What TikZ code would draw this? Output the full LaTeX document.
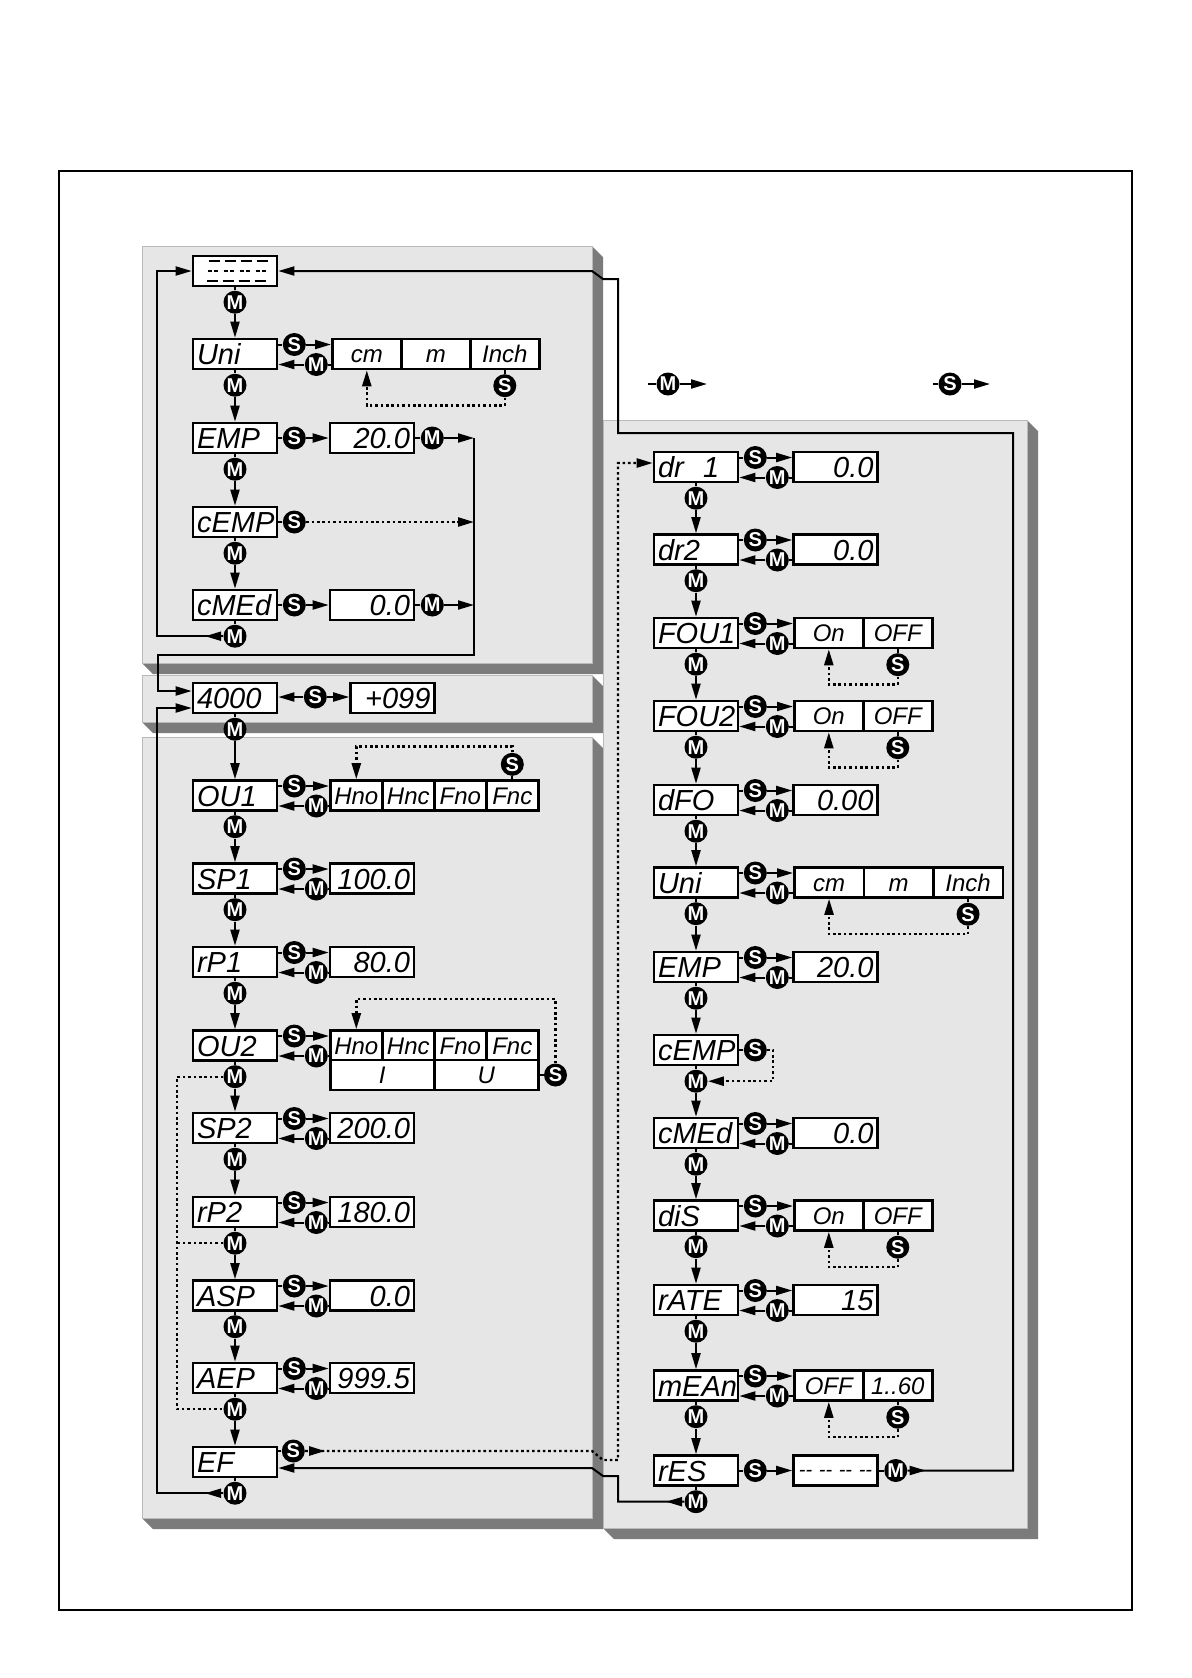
\documentclass[tikz,border=0pt]{standalone}
\usepackage{fontspec}
\newfontfamily\lcdfont{Liberation Sans}
\newfontfamily\keyfont{Liberation Sans}
\usetikzlibrary{positioning,calc,arrows.meta,decorations.markings}
\definecolor{panelgrey}{HTML}{E6E6E6}
\definecolor{shadowgrey}{HTML}{7B7B7B}

\begin{document}
\begin{tikzpicture}[x=0.5pt, y=-0.5pt,
  ptr/.tip={Triangle[length=8pt,width=4.5pt]},
  lnk/.style={line width=1pt},
  arr/.style={lnk, -ptr},
  dotlnk/.style={line width=1.2pt, dash pattern=on 1.3pt off 1.4pt},
  tipat/.style={postaction={decorate}, decoration={markings, mark=at position #1 with {\arrow{ptr}}}},
  disp/.style={draw, line width=1.3pt, fill=white, text width=38pt, inner xsep=2pt, inner ysep=0pt,
    minimum height=15pt, text height=10.6pt, text depth=0pt, font=\lcdfont\itshape\fontsize{14.5}{14.5}\selectfont},
  lbox/.style={disp, align=left},
  vbox/.style={disp, align=right},
  cell/.style={draw, line width=1.3pt, fill=white, inner sep=0pt, minimum height=15pt, text height=8.6pt,
    text depth=0pt, anchor=west, font=\lcdfont\itshape\fontsize{12}{12}\selectfont},
  btn/.style={circle, fill=black, text=white, inner sep=0pt, minimum size=11.5pt,
    font=\keyfont\bfseries\fontsize{10}{10}\selectfont}]
\useasboundingbox (0,0) rectangle (1191,1678);
% frame and panels
\draw[line width=1.1pt] (59,171) rectangle (1132,1610);
\foreach \xa/\ya/\xb/\yb in {142/246/592/663, 142/675/592/722, 142/737/592/1518, 603/420/1027/1528} {
  \fill[shadowgrey] (\xb,\ya) -- (\xb+11,\ya+11) -- (\xb+11,\yb+11) -- (\xa+11,\yb+11) -- (\xa,\yb) -- cycle;
  \filldraw[fill=panelgrey, draw=gray!55, line width=0.4pt] (\xa,\ya) rectangle (\xb,\yb);
}
% left column, upper part
\node[lbox] (dash) at (235,271) {};
\node[lbox] (uni) at (235,354) {Uni};
\node[lbox] (emp) at (235,438) {EMP};
\node[lbox] (cemp) at (235,522) {cEMP};
\node[lbox] (cmed) at (235,605) {cMEd};
\foreach \t [count=\i] in {cm,m,Inch}
  \node[cell, minimum width=34.5pt] (uo\i) at ({331+69*(\i-1)},354) {\t};
\node[vbox] (vemp) at (372,438) {20.0};
\node[vbox] (vcmed) at (372,605) {0.0};
\foreach \i in {0,...,3} {
  \draw[line width=1.2pt] ($(dash.west)+(17+16*\i,-10)$) -- ++(11,0);
  \draw[line width=1.2pt] ($(dash.west)+(16+16*\i,0)$) -- ++(4,0) ++(2,0) -- ++(4,0);
  \draw[line width=1.2pt] ($(dash.west)+(15+16*\i,10)$) -- ++(11,0);
}
% code panel
\node[lbox] (code) at (235,698) {4000};
\node[vbox] (vcode) at (392.5,698) {+099};
% left column, lower part
\node[lbox] (ou1) at (235,795.5) {OU1};
\node[lbox] (sp1) at (235,878.5) {SP1};
\node[lbox] (rp1) at (235,962) {rP1};
\node[lbox] (ou2) at (235,1045.5) {OU2};
\node[lbox] (sp2) at (235,1128) {SP2};
\node[lbox] (rp2) at (235,1212) {rP2};
\node[lbox] (asp) at (235,1295.5) {ASP};
\node[lbox] (aep) at (235,1378) {AEP};
\node[lbox] (ef) at (235,1462) {EF};
\foreach \t [count=\i] in {Hno,Hnc,Fno,Fnc} {
  \node[cell, minimum width=26pt] (oa\i) at ({329+52*(\i-1)},795.5) {\t};
  \node[cell, minimum width=26pt] (ob\i) at ({329+52*(\i-1)},1045.5) {\t};
}
\node[cell, minimum width=52pt] (ob5) at (329,1075) {I};
\node[cell, minimum width=52pt] (ob6) at (433,1075) {U};
\node[vbox] (vsp1) at (372,878.5) {100.0};
\node[vbox] (vrp1) at (372,962) {80.0};
\node[vbox] (vsp2) at (372,1128) {200.0};
\node[vbox] (vrp2) at (372,1212) {180.0};
\node[vbox] (vasp) at (372,1295.5) {0.0};
\node[vbox] (vaep) at (372,1378) {999.5};
% right column
\node[lbox] (dr1) at (696,467) {dr\ \ 1};
\node[lbox] (dr2) at (696,549.5) {dr2};
\node[lbox] (fou1) at (696,633) {FOU1};
\node[lbox] (fou2) at (696,716) {FOU2};
\node[lbox] (dfo) at (696,800) {dFO};
\node[lbox] (runi) at (696,882.5) {Uni};
\node[lbox] (remp) at (696,967) {EMP};
\node[lbox] (rcemp) at (696,1050) {cEMP};
\node[lbox] (rcmed) at (696,1133) {cMEd};
\node[lbox] (dis) at (696,1215.5) {diS};
\node[lbox] (rate) at (696,1300) {rATE};
\node[lbox] (mean) at (696,1385.5) {mEAn};
\node[lbox] (res) at (696,1470.5) {rES};
\node[vbox] (vdr1) at (835.5,467) {0.0};
\node[vbox] (vdr2) at (835.5,549.5) {0.0};
\node[vbox] (vdfo) at (835.5,800) {0.00};
\node[vbox] (vremp) at (835.5,967) {20.0};
\node[vbox] (vrcmed) at (835.5,1133) {0.0};
\node[vbox] (vrate) at (835.5,1300) {15};
\node[vbox, align=center, text height=6pt, font=\lcdfont\itshape\fontsize{10}{10}\selectfont] (vres)
  at (835.5,1470.5) {\mbox{-{}-~-{}-~-{}-~-{}-}};
\foreach \t [count=\i] in {On,OFF} {
  \node[cell, minimum width=34.5pt] (fa\i) at ({793+69*(\i-1)},633) {\t};
  \node[cell, minimum width=34.5pt] (fb\i) at ({793+69*(\i-1)},716) {\t};
  \node[cell, minimum width=34.5pt] (fc\i) at ({793+69*(\i-1)},1215.5) {\t};
}
\foreach \t [count=\i] in {OFF,1..60}
  \node[cell, minimum width=34.5pt] (fd\i) at ({793+69*(\i-1)},1385.5) {\t};
\foreach \t [count=\i] in {cm,m,Inch}
  \node[cell, minimum width=34.75pt] (ru\i) at ({793+69.5*(\i-1)},882.5) {\t};
% routing points
\coordinate (jx) at (474,655);
\coordinate (jl) at (158,655);
\coordinate (xl) at (157,0);
\coordinate (xg) at (177,0);
\coordinate (xr) at (1013,433);
\coordinate (xm) at (618,279);
\coordinate (sla) at (603,279);
\coordinate (slb) at (592,271);
\coordinate (xe) at (618,1476);
\coordinate (slc) at (603,1476);
\coordinate (sld) at (592,1468);
\coordinate (sle) at (592,1451);
\coordinate (slf) at (603,1460);
\coordinate (xd) at (618,463);
\coordinate (xc) at (773,0);
\coordinate (yo2) at (0,999);
% M steps down the columns
\foreach \a/\b in {dash/uni, uni/emp, emp/cemp, cemp/cmed, code/ou1, ou1/sp1, sp1/rp1, rp1/ou2, ou2/sp2,
    sp2/rp2, rp2/asp, asp/aep, aep/ef, dr1/dr2, dr2/fou1, fou1/fou2, fou2/dfo, dfo/runi, runi/remp,
    remp/rcemp, rcemp/rcmed, rcmed/dis, dis/rate, rate/mean, mean/res} {
  \node[btn, below=1.5pt of \a] (m\a) {M};
  \draw[lnk] (\a) -- (m\a);
  \draw[arr] (m\a) -- (\b);
}
\foreach \a in {cmed, ef, res} {
  \node[btn, below=1.5pt of \a] (m\a) {M};
  \draw[lnk] (\a) -- (m\a);
}
% S out, M back
\foreach \b/\v in {uni/uo1, ou1/oa1, sp1/vsp1, rp1/vrp1, ou2/ob1, sp2/vsp2, rp2/vrp2, asp/vasp, aep/vaep,
    dr1/vdr1, dr2/vdr2, fou1/fa1, fou2/fb1, dfo/vdfo, runi/ru1, remp/vremp, rcmed/vrcmed, dis/fc1,
    rate/vrate, mean/fd1} {
  \node[btn] (s\b) at ($(\b.east)+(16,-9.5)$) {S};
  \node[btn] (n\b) at ($(\b.east)+(38,10.5)$) {M};
  \draw[lnk] (\b.east |- s\b) -- (s\b);
  \draw[arr] (s\b) -- (s\b -| \v.west);
  \draw[lnk] (n\b) -- (n\b -| \v.west);
  \draw[arr] (n\b) -- (n\b -| \b.east);
}
% S scrolls through the choices
\foreach \c/\f in {uo3/uo1, fa2/fa1, fb2/fb1, fc2/fc1, ru3/ru1, fd2/fd1} {
  \node[btn, below=1.75pt of \c] (s\c) {S};
  \draw[lnk] (\c) -- (s\c);
  \draw[dotlnk, -ptr] (s\c.south) -- ++(0,8) -| (\f.south);
}
\node[btn, above=1.5pt of oa4] (soa) {S};
\draw[lnk] (oa4) -- (soa);
\draw[dotlnk, -ptr] (soa.north) -- ++(0,-6) -| (oa1.north);
\node[btn, right=2pt of ob6] (sob) {S};
\draw[lnk] (ob6) -- (sob);
\draw[dotlnk, -ptr] (sob.north) -- (sob.north |- yo2) -| (ob1.north);
% single S keys
\node[btn] (semp) at ($(emp.east)+(16,0)$) {S};
\node[btn] (nemp) at ($(vemp.east)+(17,0)$) {M};
\draw[lnk] (emp) -- (semp);
\draw[arr] (semp) -- (vemp);
\draw[lnk] (vemp) -- (nemp);
\draw[arr] (nemp) -- (nemp -| jx);
\node[btn] (scmed) at ($(cmed.east)+(16,0)$) {S};
\node[btn] (ncmed) at ($(vcmed.east)+(17,0)$) {M};
\draw[lnk] (cmed) -- (scmed);
\draw[arr] (scmed) -- (vcmed);
\draw[lnk] (vcmed) -- (ncmed);
\draw[arr] (ncmed) -- (ncmed -| jx);
\node[btn] (scemp) at ($(cemp.east)+(16,0)$) {S};
\draw[lnk] (cemp) -- (scemp);
\draw[dotlnk, -ptr] (scemp) -- (scemp -| jx);
\node[btn] (scode) at ($(code.east)+(37,-1)$) {S};
\draw[arr] (scode) -- (scode -| code.east);
\draw[arr] (scode) -- (scode -| vcode.west);
\node[btn] (sef) at ($(ef.east)+(15,-11)$) {S};
\draw[lnk] (ef.east |- sef) -- (sef);
\node[btn] (srcemp) at ($(rcemp.east)+(16,0)$) {S};
\draw[lnk] (rcemp) -- (srcemp);
\draw[dotlnk, -ptr] (srcemp.east) -| (xc |- mrcemp) -- (mrcemp);
\node[btn] (sres) at ($(res.east)+(16,0)$) {S};
\node[btn] (nres) at ($(vres.east)+(17,0)$) {M};
\draw[lnk] (res) -- (sres);
\draw[arr] (sres) -- (vres);
\draw[lnk] (vres) -- (nres);
% loops
\draw[arr] (jx |- nemp) -- (jx) -- (jl) |- ($(code.west)+(0,-7)$);
\draw[arr, tipat=9pt] (mcmed.west) -| (xl |- dash) -- (dash.west);
\draw[arr, tipat=9pt] (mef.west) -| ($(xl |- code)+(0,10)$) -- ($(code.west)+(0,10)$);
\draw[arr, tipat=9pt] (nres.east) -| (xr) -| (xm) -- (sla) -- (slb) -- (dash.east |- slb);
\draw[arr, tipat=9pt] (mres.west) -| (xe) -- (slc) -- (sld) -- (ef.east |- sld);
\draw[dotlnk, -ptr, tipat=10pt] (sef.east) -- (sle) -- (slf) -| (xd) -- (dr1.west |- xd);
\draw[dotlnk] (mou2.west) -| (xg |- maep) -- (maep.west);
\draw[dotlnk] (mrp2.west) -- (mrp2 -| xg);
% legend
\node[btn] (legm) at (668,384) {M};
\node[btn] (legs) at (950,384) {S};
\coordinate (legma) at (648,384);
\coordinate (legmb) at (707,384);
\coordinate (legsa) at (933,384);
\coordinate (legsb) at (990,384);
\draw[lnk] (legma) -- (legm);
\draw[arr] (legm) -- (legmb);
\draw[lnk] (legsa) -- (legs);
\draw[arr] (legs) -- (legsb);
\end{tikzpicture}
\end{document}
